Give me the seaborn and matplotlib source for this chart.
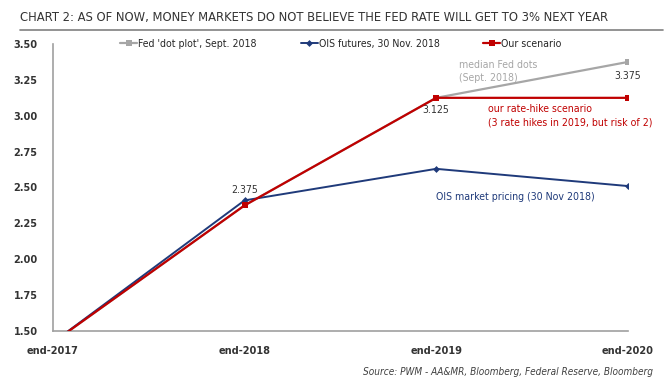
import pandas as pd
import matplotlib.pyplot as plt
import matplotlib.lines as mlines
import seaborn as sns

# dados
periodos = ['end-2017', 'end-2018', 'end-2019', 'end-2020']
fed_dots = [1.42, 2.375, 3.125, 3.375]
ois_futures = [1.42, 2.41, 2.63, 2.51]
nosso_cenario = [1.42, 2.375, 3.125, 3.125]

nomes = ["Fed 'dot plot', Sept. 2018", "OIS futures, 30 Nov. 2018", "Our scenario"]
cores = ['#A6A6A6', '#1F3A7A', '#C00000']
marcadores = ['s', 'D', 's']

sns.set_style('white')
plt.rcParams['font.family'] = ['DejaVu Sans']
plt.rcParams['font.stretch'] = 'condensed'

x = list(range(len(periodos)))
fig = plt.figure(figsize=(6.7, 3.83), dpi=100)
ax = fig.add_axes([0.079, 0.136, 0.858, 0.749])

series = [fed_dots, ois_futures, nosso_cenario]
tam = [5, 3.5, 5]
larg = [1.6, 1.4, 1.6]
for i, serie in enumerate(series):
    df = pd.DataFrame({'x': x, 'y': serie})
    sns.lineplot(data=df, x='x', y='y', ax=ax, color=cores[i], marker=marcadores[i],
                 markersize=tam[i], markeredgewidth=0, linewidth=larg[i], zorder=2 + i)

ax.set_xlim(0, 3)
ax.set_ylim(1.5, 3.5)
ax.set_xticks(x)
ax.set_xticklabels(periodos, fontsize=7.8, color='#333333', fontweight='bold')
ax.set_yticks([1.5, 1.75, 2.0, 2.25, 2.5, 2.75, 3.0, 3.25, 3.5])
ax.set_yticklabels(['%.2f' % v for v in ax.get_yticks()], fontsize=7.8, color='#333333',
                   fontweight='bold')
ax.set_xlabel('')
ax.set_ylabel('')
for lado in ['top', 'right']:
    ax.spines[lado].set_visible(False)
for lado in ['left', 'bottom']:
    ax.spines[lado].set_color('#A0A0A0')
    ax.spines[lado].set_linewidth(1.2)
ax.tick_params(axis='both', direction='inout', length=6, width=0.8, color='#A0A0A0', pad=8)

# anotacoes
fs = 7.6
ax.text(1, 2.375 + 0.075, '2.375', ha='center', va='bottom', fontsize=fs, color='#333333')
ax.text(2, 3.125 - 0.05, '3.125', ha='center', va='top', fontsize=fs, color='#333333')
ax.text(3, 3.375 - 0.06, '3.375', ha='center', va='top', fontsize=fs, color='#333333')
ax.text(2.12, 3.31, 'median Fed dots\n(Sept. 2018)', ha='left', va='center', fontsize=fs,
        color='#A6A6A6', linespacing=1.4)
ax.text(2.27, 3.0, 'our rate-hike scenario\n(3 rate hikes in 2019, but risk of 2)', ha='left',
        va='center', fontsize=fs, color='#C00000', linespacing=1.4)
ax.text(2, 2.435, 'OIS market pricing (30 Nov 2018)', ha='left', va='center', fontsize=fs,
        color='#1F3A7A')

# legenda
handles = [mlines.Line2D([], [], color=cores[i], marker=marcadores[i], markersize=tam[i],
                         markeredgewidth=0, linewidth=larg[i]) for i in range(3)]
fig.legend(handles, nomes, loc='center', bbox_to_anchor=(0.509, 0.885), ncol=3, frameon=False,
           fontsize=7.6, handlelength=1.6, handletextpad=0.1, columnspacing=4.15)

# titulo
fig.text(0.03, 0.955, 'CHART 2: AS OF NOW, MONEY MARKETS DO NOT BELIEVE THE FED RATE WILL GET TO 3% NEXT YEAR',
         fontsize=9.3, color='#333333', ha='left', va='center')
fig.add_artist(mlines.Line2D([0.03, 0.99], [0.922, 0.922], color='#808080', linewidth=1.2))

fig.text(0.975, 0.03, 'Source: PWM - AA&MR, Bloomberg, Federal Reserve, Bloomberg', fontsize=7.2,
         style='italic', color='#404040', ha='right', va='center')

plt.savefig('out.png', dpi=100)
